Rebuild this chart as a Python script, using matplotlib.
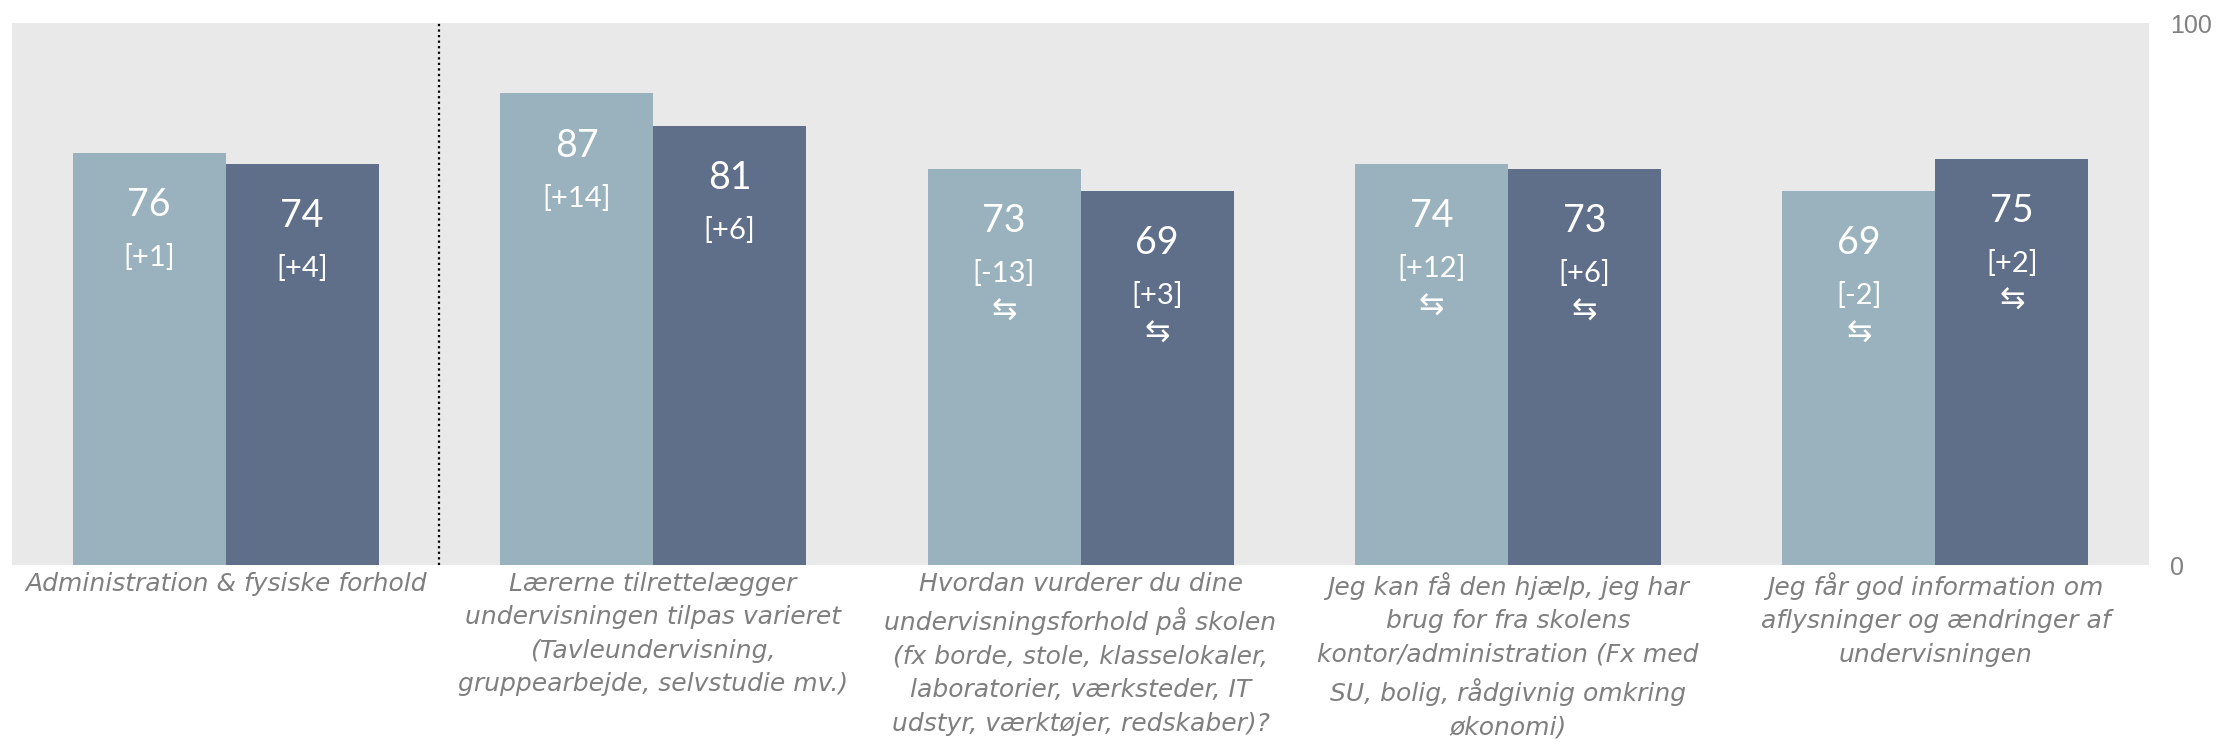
import numpy as np
import matplotlib
matplotlib.use('Agg')
import matplotlib.pyplot as plt

categories = [
    "Administration & fysiske forhold",
    "Lærerne tilrettelægger\nundervisningen tilpas varieret\n(Tavleundervisning,\ngruppearbejde, selvstudie mv.)",
    "Hvordan vurderer du dine\nundervisningsforhold på skolen\n(fx borde, stole, klasselokaler,\nlaboratorier, værksteder, IT\nudstyr, værktøjer, redskaber)?",
    "Jeg kan få den hjælp, jeg har\nbrug for fra skolens\nkontor/administration (Fx med\nSU, bolig, rådgivnig omkring\nøkonomi)",
    "Jeg får god information om\naflysninger og ændringer af\nundervisningen",
]
light_vals = [76, 87, 73, 74, 69]
dark_vals = [74, 81, 69, 73, 75]
light_diff = ['+1', '+14', '-13', '+12', '-2']
dark_diff = ['+4', '+6', '+3', '+6', '+2']
light_arrow = [False, False, True, True, True]
dark_arrow = [False, False, True, True, True]

light_col = '#9AB2BD'
dark_col = '#5F6F8A'

fig = plt.figure(figsize=(22.16, 7.42), dpi=100)
ax = fig.add_axes([0.0054, 0.2385, 0.9644, 0.7305])
ax.set_facecolor('#E9E9E9')

x = np.arange(len(categories))
w = 0.358
ax.bar(x - w / 2, light_vals, width=w, color=light_col)
ax.bar(x + w / 2, dark_vals, width=w, color=dark_col)

fam = ['Lato', 'DejaVu Sans']
for vals, diffs, arrows, off in [(light_vals, light_diff, light_arrow, -w / 2),
                                 (dark_vals, dark_diff, dark_arrow, w / 2)]:
    for i in range(len(vals)):
        xc = x[i] + off
        ax.text(xc, vals[i] - 9.6, str(vals[i]), ha='center', va='center',
                color='white', fontsize=27, family=fam)
        ax.text(xc, vals[i] - 19.3, '[' + diffs[i] + ']', ha='center', va='center',
                color='white', fontsize=21, family=fam)
        if arrows[i]:
            ax.text(xc, vals[i] - 26.2, '\u21c6', ha='center', va='center',
                    color='white', fontsize=22, family=['DejaVu Sans'])

ax.axvline(0.5, color='black', linestyle=(0, (1, 1.5)), linewidth=1.6)

ax.set_xlim(-0.5, 4.5)
ax.set_ylim(0, 100)
for s in ax.spines.values():
    s.set_visible(False)

ax.yaxis.tick_right()
ax.set_yticks([0, 100])
ax.tick_params(axis='y', length=0, pad=15, labelsize=18, labelcolor='#808080')
for t in ax.get_yticklabels():
    t.set_family('Liberation Sans')

ax.set_xticks(x)
ax.set_xticklabels(categories, fontsize=18, style='italic', color='#7f7f7f',
                   ha='center', va='top')
ax.tick_params(axis='x', length=0, pad=5)
for t in ax.get_xticklabels():
    t.set_linespacing(1.5)

fig.savefig('out.png', dpi=100)
